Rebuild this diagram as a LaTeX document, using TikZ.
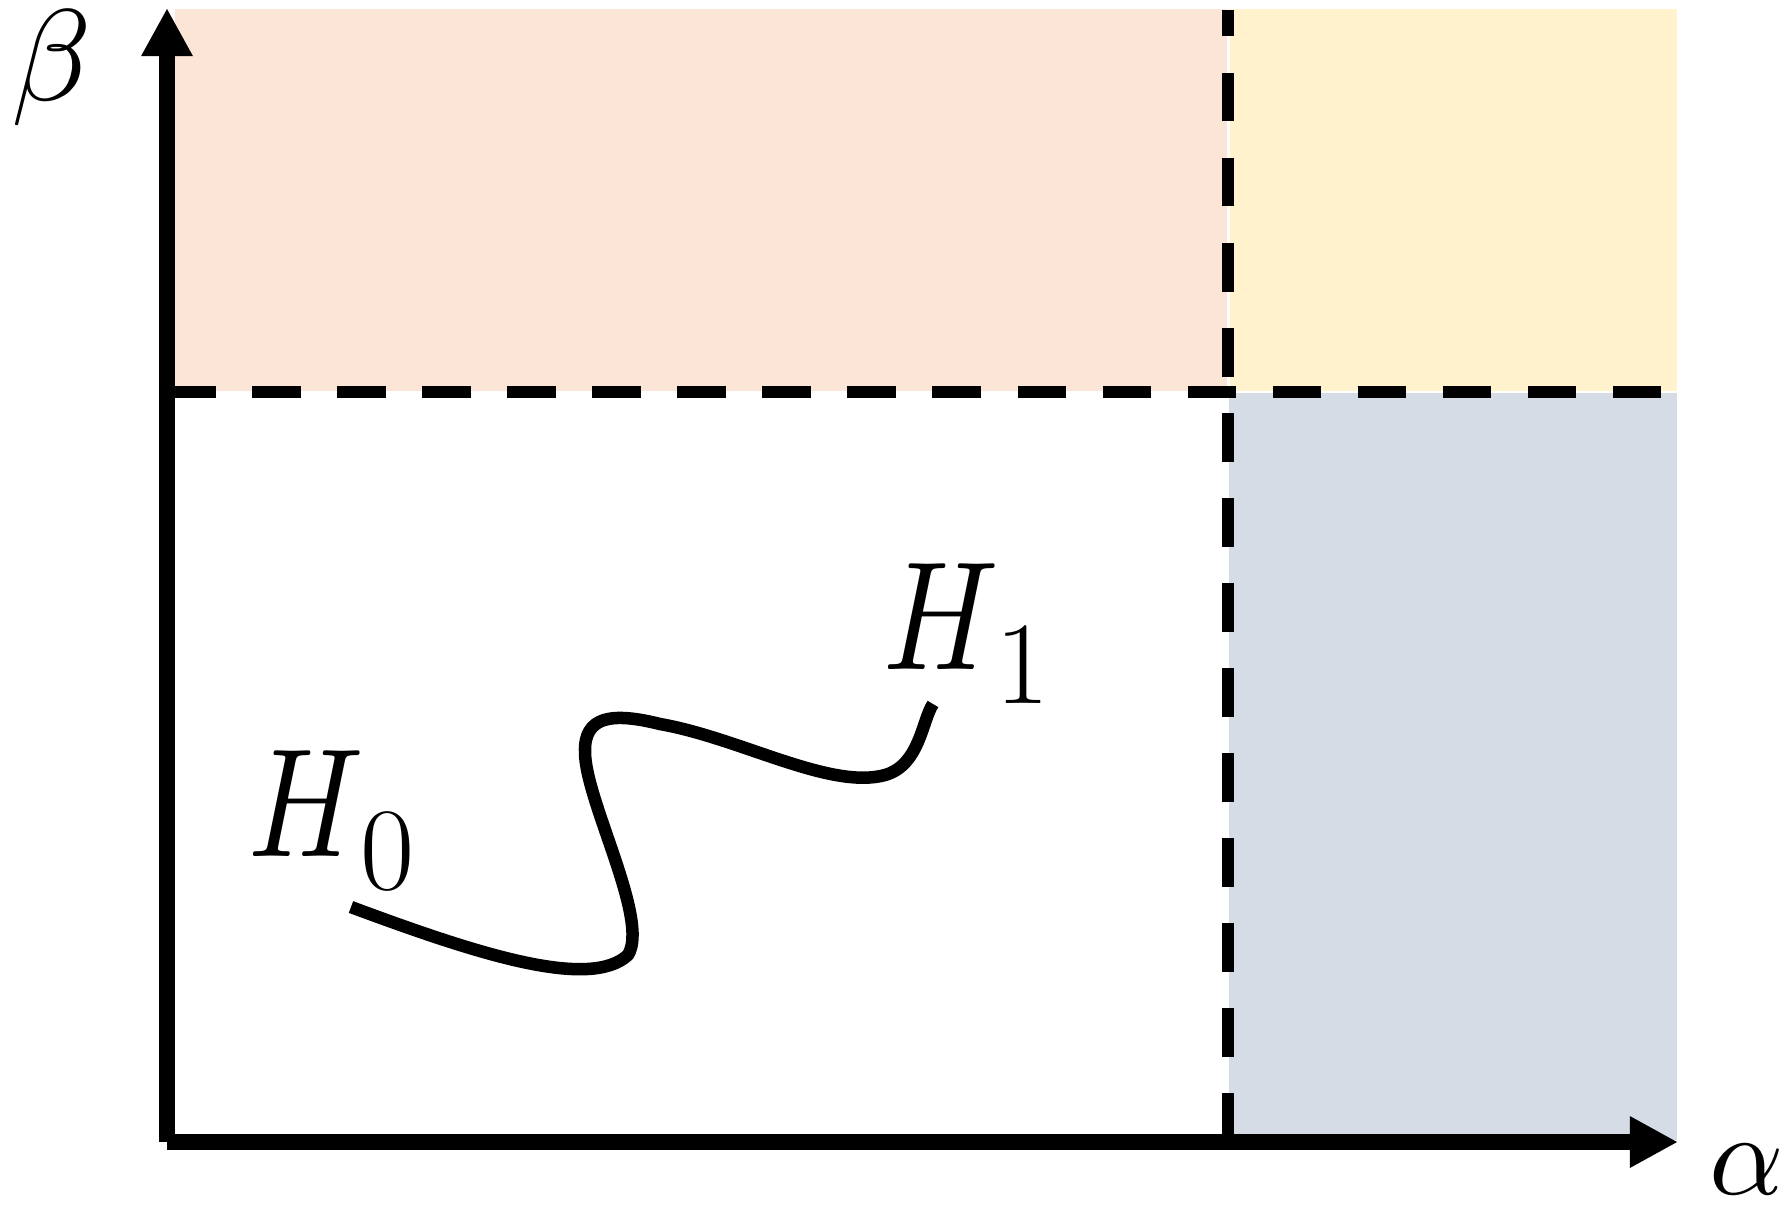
\documentclass[tikz,border=0pt]{standalone}
\usetikzlibrary{arrows.meta}
\definecolor{peach}{HTML}{FBE5D6}
\definecolor{cream}{HTML}{FFF2CC}
\definecolor{slate}{HTML}{D6DCE5}
\newcommand{\hypo}[2]{\scalebox{3.6}[4.4]{$H$}\kern-0.04cm\raisebox{#2}{\fontsize{33.5}{36}\selectfont #1}}

\begin{document}
\begin{tikzpicture}[
    x=0.01cm, y=-0.01cm,
    axis/.style={
        line width=0.155cm,
        -{Triangle[length=0.48cm, width=0.48cm]},
    },
    bound/.style={
        line width=0.12cm,
        dash pattern=on 0.485cm off 0.365cm,
    },
    trajectory/.style={
        line width=0.125cm,
        line join=round,
    },
    hyp/.style={
        inner sep=0pt,
        anchor=base west,
        font=\fontsize{10}{12}\selectfont,
    },
    greek/.style={
        inner sep=0pt,
        font=\fontsize{10}{12}\selectfont,
    },
]

\useasboundingbox (0,0) rectangle (1791,1205);

% regions
\fill[peach] (175,9.3) rectangle (1227,391);
\fill[cream] (1230,9.3) rectangle (1677,391);
\fill[slate] (1229,393) rectangle (1677,1140);

\coordinate (origin) at (167,1142);
\coordinate (ytip)   at (167,8);
\coordinate (xtip)   at (1678,1142);
\coordinate (vlow)   at (1228,1142);
\coordinate (vtop)   at (1228,10);
\coordinate (hleft)  at (167,392);
\coordinate (hright) at (1677,392);

% thresholds
\draw[bound] (vlow)  -- (vtop);
\draw[bound] (hleft) -- (hright);

% axes
\draw[axis] (origin) -- (ytip);
\draw[axis] (origin) -- (xtip);

\node[greek] (beta)  at (52,68)     {\scalebox{3.7}{$\beta$}};
\node[greek] (alpha) at (1747,1169) {\scalebox{3.3}{$\alpha$}};

\node[hyp] (h0) at (248,856) {\hypo{0}{-0.33cm}};
\node[hyp] (h1) at (883,669) {\hypo{1}{-0.34cm}};

\coordinate (start) at (351,907);
\coordinate (stop)  at (933,704);

\draw[trajectory] (start) .. controls (480,955) and (590,990) .. (628,955)
    .. controls (650,920) and (585,800) .. (585,752)
    .. controls (584,716) and (612,712) .. (660,724)
    .. controls (740,738) and (830,790) .. (885,775)
    .. controls (920,765) and (922,720) .. (stop);

\end{tikzpicture}
\end{document}
